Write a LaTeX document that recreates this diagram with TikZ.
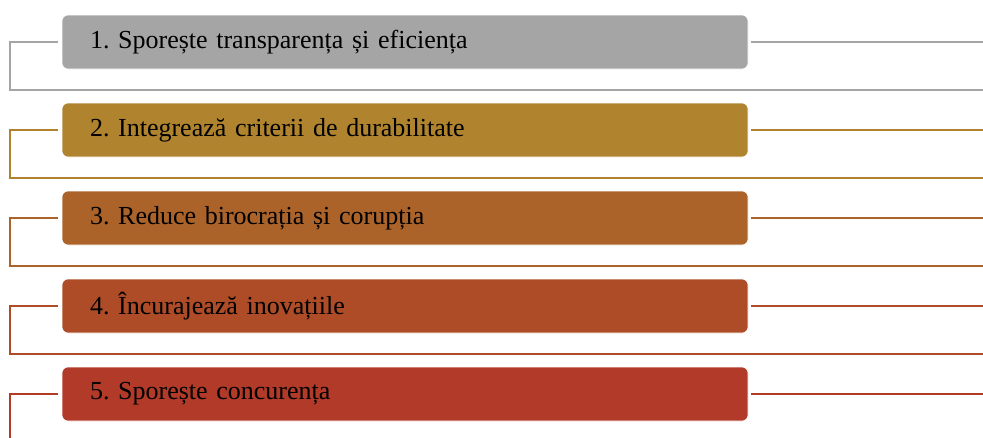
\documentclass[tikz,border=0pt]{standalone}
\usepackage{fontspec}
\setmainfont{Liberation Serif}[WordSpace=0.8]
\usepackage{xcolor}
\frenchspacing

\definecolor{stepA}{HTML}{A5A5A5}
\definecolor{stepB}{HTML}{B0842F}
\definecolor{stepC}{HTML}{AB632A}
\definecolor{stepD}{HTML}{AE4C27}
\definecolor{stepE}{HTML}{B23A28}

\tikzset{
  stepbox/.style={rounded corners=6pt,draw=white,line width=0.6pt,
    minimum width=686pt,minimum height=54pt,inner xsep=28pt,
    text width=630pt,align=left,font=\fontsize{26}{29}\selectfont},
  frame/.style={line width=1.6pt,line join=miter}
}

\begin{document}
\begin{tikzpicture}[x=1pt,y=-1pt]
\useasboundingbox (0,0) rectangle (983,437);
\clip (0,0) rectangle (983,437);
\foreach \i/\c/\t in {1/stepA/{1. Sporește transparența și eficiența},
                      2/stepB/{2. Integrează criterii de durabilitate},
                      3/stepC/{3. Reduce birocrația și corupția},
                      4/stepD/{4. Încurajează inovațiile},
                      5/stepE/{5. Sporește concurența}}{
  % box and its frame
  \pgfmathsetmacro{\yc}{42+88*(\i-1)}
  \coordinate (l\i) at (58,\yc);
  \coordinate (r\i) at (983,\yc);
  \coordinate (bl\i) at (10,\yc+48);
  \coordinate (br\i) at (983,\yc+48);
  \draw[frame,\c] (l\i) -| (bl\i) -- (br\i);
  \node[stepbox,fill=\c] (b\i) at (405,\yc) {\t};
  \draw[frame,\c] (b\i.east) ++(3,0) -- (r\i);
}
\end{tikzpicture}
\end{document}
